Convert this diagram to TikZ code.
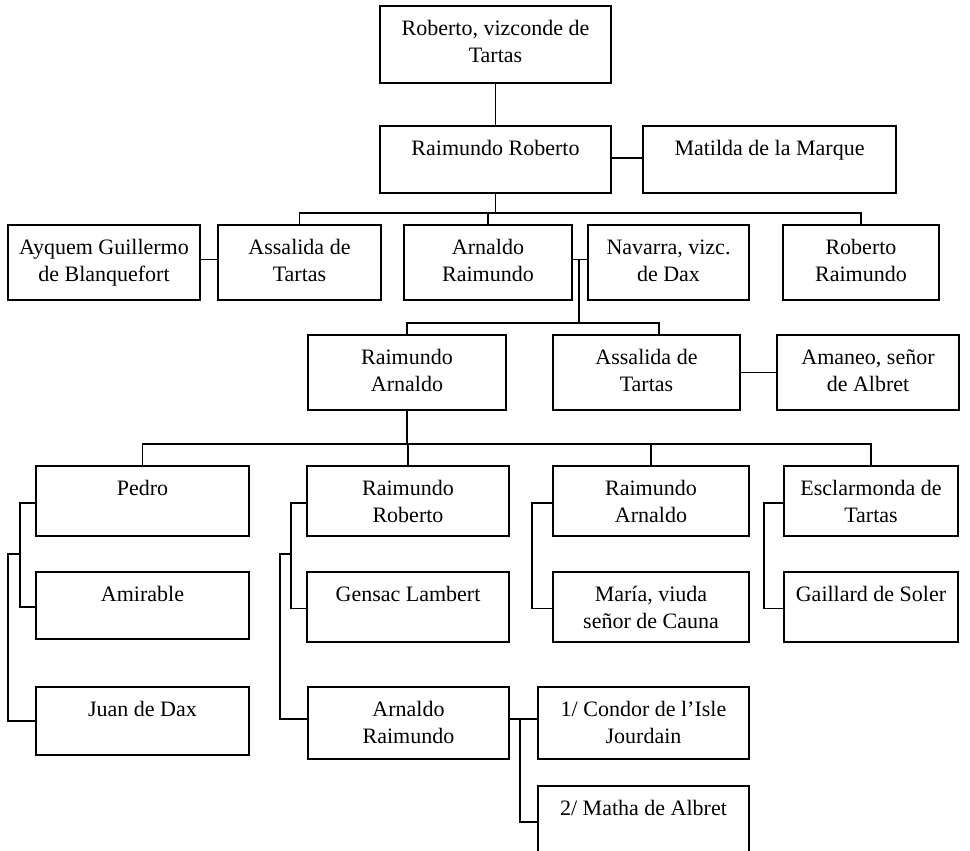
\documentclass[tikz,border=0pt]{standalone}
\usepackage{fontspec}
\setmainfont{Liberation Serif}
\usetikzlibrary{calc}
\tikzset{
  pb/.style={draw, line width=1.8pt, inner sep=0pt, outer sep=0pt, rectangle},
  pbopen/.style={inner sep=0pt, outer sep=0pt, rectangle},
  txt/.style={anchor=north, inner sep=0pt, outer sep=0pt, align=center, font=\fontsize{22}{27}\selectfont},
  link/.style={line width=1.7pt},
  thinlink/.style={line width=1.2pt}
}
\newcommand\famBox[6]{%
  \node[pb, minimum width={#4-#2}, minimum height={#5-#3}] (#1) at ({(#2+#4)/2},{(#3+#5)/2}) {};
  \node[txt] (#1t) at ({(#2+#4)/2},{#3+13.5}) {\rule{0pt}{16pt}#6};}
\begin{document}
\begin{tikzpicture}[x=1pt,y=-1pt]
\useasboundingbox (0,0) rectangle (970,851);
% generation 1-2
\famBox{top}{380}{6}{611}{83}{Roberto, vizconde de\\Tartas}
\famBox{rr}{380}{126}{611}{193}{Raimundo Roberto}
\famBox{mat}{643}{126}{896}{193}{Matilda de la Marque}
% generation 3
\famBox{ayq}{8}{225}{200}{300}{Ayquem Guillermo\\de Blanquefort}
\famBox{assa}{218}{225}{381}{300}{Assalida de\\Tartas}
\famBox{arr}{404}{225}{572}{300}{Arnaldo\\Raimundo}
\famBox{nav}{588}{225}{749}{300}{Navarra, vizc.\\de Dax}
\famBox{robr}{783}{225}{939}{300}{Roberto\\Raimundo}
% generation 4
\famBox{ra}{308}{335}{506}{410}{Raimundo\\Arnaldo}
\famBox{assb}{553}{335}{740}{410}{Assalida de\\Tartas}
\famBox{ama}{777}{335}{959}{410}{Amaneo, señor\\de Albret}
% generation 5
\famBox{ped}{36}{466}{249}{536}{Pedro}
\famBox{rrb}{307}{466}{509}{536}{Raimundo\\Roberto}
\famBox{rab}{553}{466}{749}{536}{Raimundo\\Arnaldo}
\famBox{esc}{784}{466}{958}{536}{Esclarmonda de\\Tartas}
\famBox{ami}{36}{572}{249}{639}{Amirable}
\famBox{gen}{307}{572}{509}{642}{Gensac Lambert}
\famBox{mar}{553}{572}{749}{642}{María, viuda\\señor de Cauna}
\famBox{gai}{784}{572}{958}{642}{Gaillard de Soler}
\famBox{jua}{36}{687}{249}{755}{Juan de Dax}
\famBox{arrb}{308}{687}{509}{759}{Arnaldo\\Raimundo}
\famBox{con}{538}{687}{749}{759}{1/ Condor de l’Isle\\Jourdain}
% cut-off box at the bottom
\node[pbopen, minimum width=211, minimum height=65] (math) at (643.5,818.5) {};
\node[txt] (matht) at (643.5,799.5) {\rule{0pt}{16pt}2/ Matha de Albret};
\draw[line width=1.8pt] (math.south west) -- (math.north west) -- (math.north east) -- (math.south east);
% coordinates of bars
\coordinate (barA) at (0,213);
\coordinate (barB) at (0,323);
\coordinate (barC) at (0,444);
% connectors generation 1-2
\draw[link] (top.south) -- (rr.north);
\draw[thinlink] ([yshift=1.5pt]rr.east) -- ([yshift=1.5pt]mat.west);
% children of Raimundo Roberto
\draw[link] (rr.south) -- (rr.south |- barA);
\draw[link] (assa.north) -- (assa.north |- barA) -| (robr.north);
\draw[link] (arr.north) -- (arr.north |- barA);
\draw[link] ([yshift=3pt]ayq.east) -- ([yshift=3pt]assa.west);
% Arnaldo Raimundo + Navarra
\draw[link] ([yshift=3pt]arr.east) -- ([yshift=3pt]nav.west);
\coordinate (mid1) at (579,259.5);
\coordinate (assbtop) at (659,335);
\draw[link] (mid1) -- (mid1 |- barB);
\draw[link] (ra.north) -- (ra.north |- barB) -| (assbtop);
\draw[link] (assb.east) -- (ama.west);
% children of Raimundo Arnaldo
\draw[link] (ra.south) -- (ra.south |- barC);
\draw[link] (ped.north) -- (ped.north |- barC) -| (esc.north);
\draw[link] (rrb.north) -- (rrb.north |- barC);
\draw[link] (rab.north) -- (rab.north |- barC);
% brackets
\coordinate (pedj) at (20,554);
\draw[link] ([yshift=-2pt]ped.west) -- ++(-16,0) |- ([yshift=-1.5pt]ami.west);
\draw[link] (pedj) -- ++(-12,0) |- (jua.west);
\coordinate (rrj) at (291,554);
\draw[link] ([yshift=-2pt]rrb.west) -- ++(-16,0) |- ([yshift=-1.5pt]gen.west);
\draw[link] (rrj) -- ++(-11,0) |- ([yshift=4pt]arrb.west);
\draw[link] ([yshift=-2pt]rab.west) -- ++(-21,0) |- ([yshift=-1.5pt]mar.west);
\draw[link] ([yshift=-2pt]esc.west) -- ++(-20,0) |- ([yshift=-1.5pt]gai.west);
% Arnaldo Raimundo's wives
\draw[link] ([yshift=4pt]arrb.east) -- ([yshift=4pt]con.west);
\coordinate (arrj) at (520,719);
\draw[link] (arrj) |- ([yshift=-3.5pt]math.west);
\end{tikzpicture}
\end{document}
